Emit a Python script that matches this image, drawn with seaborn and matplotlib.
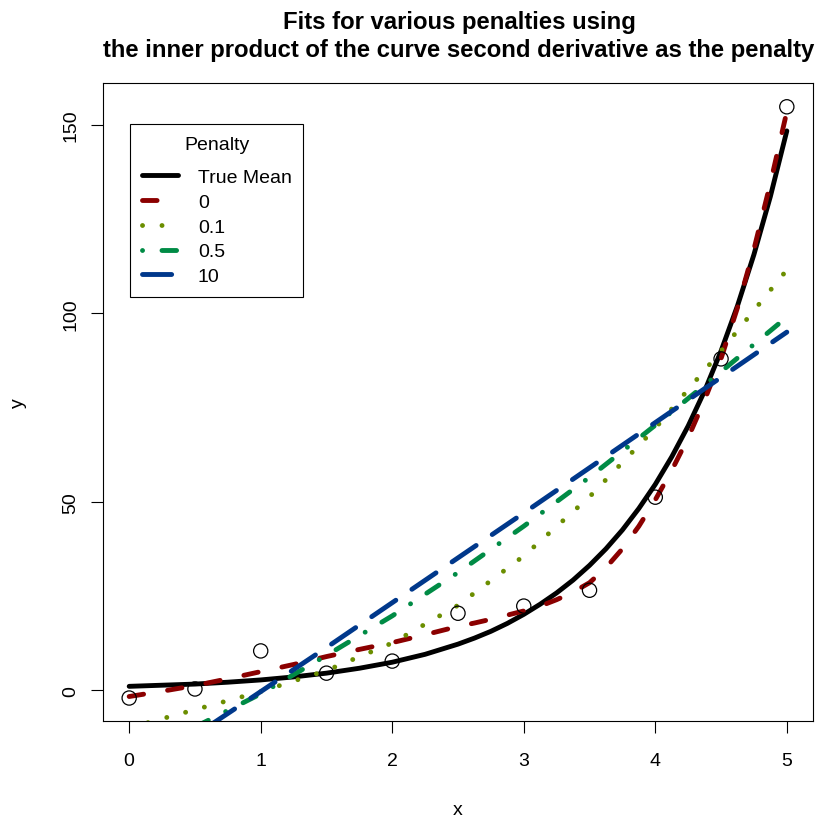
import numpy as np
import pandas as pd
import seaborn as sns
import matplotlib.pyplot as plt

# observed points
x_obs = [0, 0.5, 1, 1.5, 2, 2.5, 3, 3.5, 4, 4.5, 5]
y_obs = [-2.1, 0.3, 10.4, 4.5, 7.7, 20.4, 22.3, 26.5, 51.2, 87.9, 154.8]

# true mean curve and penalty-0 fit, read finer where they bend
x_fine = [0, 0.25, 0.5, 0.75, 1, 1.25, 1.5, 1.75, 2, 2.25, 2.5, 2.625,
          2.75, 2.875, 3, 3.125, 3.25, 3.375, 3.5, 3.625, 3.75, 3.875,
          4, 4.125, 4.25, 4.375, 4.5, 4.625, 4.75, 4.875, 5]
true_mean = [1.0, 1.3, 1.6, 2.1, 2.7, 3.5, 4.5, 5.8, 7.4, 9.5, 12.2, 13.8,
             15.6, 17.7, 20.1, 22.8, 25.8, 29.2, 33.1, 37.5, 42.5, 48.2,
             54.6, 61.9, 70.1, 79.4, 90.0, 102.0, 115.6, 131.0, 148.4]
fit_0 = [-1.7, -0.3, 1.2, 3.0, 4.9, 6.8, 8.9, 10.8, 12.6, 14.7, 16.9, 17.8,
         18.8, 19.9, 21.0, 22.3, 24.0, 26.0, 28.5, 32.5, 37.5, 43.5,
         50.5, 58.3, 67.0, 77.0, 88.0, 101.5, 117.0, 134.5, 153.5]

# smoother fits, read at half steps
x_half = [0, 0.5, 1, 1.5, 2, 2.5, 3, 3.5, 4, 4.5, 5]
fit_01 = [-10.0, -5.2, -0.4, 5.2, 12.5, 22.5, 35.6, 51.3, 69.5, 90.0, 111.5]
fit_05 = [-18.0, -9.8, -1.0, 9.2, 19.7, 31.2, 43.5, 56.5, 70.3, 84.5, 99.0]
fit_10 = [-23.5, -12.0, -0.4, 11.3, 23.2, 35.1, 47.0, 59.0, 71.0, 83.0, 95.0]

labels = ["True Mean", "0", "0.1", "0.5", "10"]
colors = ["black", "#8B0000", "#6B8E00", "#008B45", "#00388B"]

sns.set_style("ticks")
plt.rcParams["font.family"] = ["Liberation Sans", "DejaVu Sans"]
plt.rcParams["text.color"] = "black"
plt.rcParams["axes.labelcolor"] = "black"

fig = plt.figure(figsize=(8.23, 8.20), dpi=100)
ax = fig.add_axes([0.125, 0.1195, 0.863, 0.778])

lw = 3.5
common = dict(ax=ax, linewidth=lw, solid_capstyle="round", dash_capstyle="round")

sns.lineplot(x=x_fine, y=true_mean, color=colors[0], label=labels[0], **common)
sns.lineplot(x=x_fine, y=fit_0, color=colors[1], label=labels[1],
             linestyle=(0, (3, 5)), **common)
sns.lineplot(x=x_half, y=fit_01, color=colors[2], label=labels[2],
             linestyle=(0, (0.01, 4)), **common)
sns.lineplot(x=x_half, y=fit_05, color=colors[3], label=labels[3],
             linestyle=(0, (0.01, 4, 3, 4)), **common)
sns.lineplot(x=x_half, y=fit_10, color=colors[4], label=labels[4],
             linestyle=(0, (6, 4)), **common)

sns.scatterplot(x=x_obs, y=y_obs, ax=ax, s=105, facecolor="none",
                edgecolor="black", linewidth=0.9, zorder=5)

ax.set_xlim(-0.2, 5.2)
ax.set_ylim(-8.2, 161.1)
ax.set_xticks([0, 1, 2, 3, 4, 5])
ax.set_yticks([0, 50, 100, 150])
for s in ax.spines.values():
    s.set_visible(True)
    s.set_linewidth(0.8)
    s.set_color("black")
ax.tick_params(axis="both", length=8.5, width=0.8, color="black",
               labelsize=14, labelcolor="black")
ax.tick_params(axis="x", pad=14)
ax.tick_params(axis="y", pad=8.5)
plt.setp(ax.get_yticklabels(), rotation=90, va="center")

ax.set_xlabel("x", fontsize=14)
ax.set_ylabel("y", fontsize=14)
ax.xaxis.set_label_coords(0.5, -0.138)
ax.xaxis.label.set_va("center")
ax.yaxis.set_label_coords(-0.119, 0.5)
ax.yaxis.label.set_va("center")

fig.text(0.5577, 1 - 23 / 820, "Fits for various penalties using",
         ha="center", va="center", fontsize=17.2, fontweight="bold")
fig.text(0.5577, 1 - 51 / 820,
         "the inner product of the curve second derivative as the penalty",
         ha="center", va="center", fontsize=17.2, fontweight="bold")

leg = ax.legend(title="Penalty", loc="upper left", bbox_to_anchor=(0.038, 0.936),
                borderaxespad=0, fontsize=14, title_fontsize=14, frameon=True,
                fancybox=False, edgecolor="black", framealpha=1,
                handlelength=1.9, handletextpad=1.0, labelspacing=0.37,
                borderpad=0.6)
leg.get_frame().set_linewidth(0.8)
# extra room between the legend title and the first entry
leg._legend_box.sep = 11.4
# only one dash fits in the key for the penalty-0 line
leg.get_lines()[1].set_linestyle((0, (3, 9)))

fig.savefig("out.png", dpi=100)
